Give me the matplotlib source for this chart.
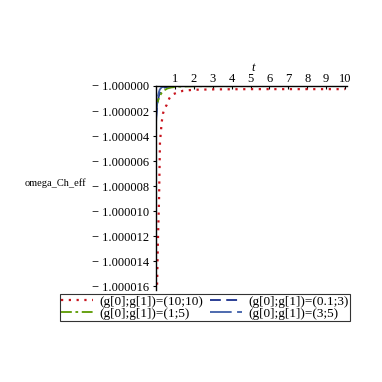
import matplotlib
matplotlib.use('Agg')
import matplotlib.pyplot as plt
from matplotlib.ticker import FuncFormatter
import numpy as np

plt.rcParams['font.family'] = ['Liberation Serif', 'DejaVu Serif']

# curves: t and offset below -1 (in units of 1e-6)
t_red = [0.05, 0.1, 0.16, 0.21, 0.25, 0.30, 0.37, 0.45, 0.57, 0.7, 0.83, 1.1, 1.43, 2.0, 3.0, 5.0, 7.0, 10.0]
d_red = [16.5, 12.5, 9.1, 4.5, 3.8, 2.9, 2.2, 1.8, 1.5, 1.0, 0.7, 0.54, 0.38, 0.3, 0.27, 0.25, 0.25, 0.25]

t_b1 = [0.0, 0.05, 0.1, 0.15, 0.2, 0.3, 0.45, 0.7, 1.0, 2.0, 10.0]
d_b1 = [2.6, 1.8, 1.2, 0.8, 0.55, 0.28, 0.12, 0.05, 0.02, 0.0, 0.0]

t_g = [0.0, 0.05, 0.1, 0.2, 0.3, 0.4, 0.6, 0.8, 1.2, 2.0, 10.0]
d_g = [1.8, 1.5, 1.2, 0.8, 0.55, 0.38, 0.2, 0.12, 0.05, 0.02, 0.0]

t_b2 = [0.0, 0.03, 0.06, 0.1, 0.15, 0.2, 0.3, 0.5, 1.0, 10.0]
d_b2 = [3.0, 2.1, 1.4, 0.85, 0.5, 0.28, 0.1, 0.03, 0.0, 0.0]

labels = ['(g[0];g[1])=(10;10)', '(g[0];g[1])=(0.1;3)',
          '(g[0];g[1])=(1;5)', '(g[0];g[1])=(3;5)']


def omega(d):
    return -1.0 - np.array(d) * 1e-6


fig = plt.figure(figsize=(3.82, 3.82), dpi=100)
ax = fig.add_axes([156 / 382, 1 - 290 / 382, 191 / 382, 204 / 382])

l1, = ax.plot(t_red, omega(d_red), color='#c8141e', ls=(0, (1, 2.5)), lw=1.6)
l2, = ax.plot(t_b1, omega(d_b1), color='#1a2f8c', ls=(0, (6, 3)), lw=1.3)
l3, = ax.plot(t_g, omega(d_g), color='#5a9a00', ls=(0, (6, 2, 1.5, 2)), lw=1.3)
l4, = ax.plot(t_b2, omega(d_b2), color='#3f5fa8', ls=(0, (12, 3)), lw=1.3)

ax.set_xlim(0, 10.1)
ax.set_ylim(-1.0000163, -1.0)

ax.spines['right'].set_visible(False)
ax.spines['bottom'].set_visible(False)
ax.spines['left'].set_linewidth(1.0)
ax.spines['top'].set_linewidth(1.0)

ax.xaxis.tick_top()
ax.set_xticks(range(1, 11))
ax.tick_params(axis='x', direction='in', length=2, pad=1, labelsize=9)
yt = [-1.0 - k * 2e-6 for k in range(9)]
ax.set_yticks(yt)
ax.yaxis.set_major_formatter(FuncFormatter(lambda v, p: '\u2212 %.6f' % abs(v)))
ax.tick_params(axis='y', direction='out', length=2, pad=3, labelsize=9)

fig.text(253 / 382, 1 - 68 / 382, 't', style='italic', fontsize=9, ha='center', va='center')
fig.text(55 / 382, 1 - 183 / 382, 'omega_Ch_eff', fontsize=7.5, ha='center', va='center')

# row-major order like the reference legend
leg = fig.legend([l1, l3, l2, l4], [labels[0], labels[2], labels[1], labels[3]],
                 ncol=2, loc='upper center',
                 bbox_to_anchor=(205 / 382, 1 - 294 / 382), fontsize=9.5,
                 frameon=True, fancybox=False, edgecolor='black',
                 handlelength=2.4, handletextpad=0.5, columnspacing=0.5,
                 borderpad=0.1, labelspacing=0.0, borderaxespad=0)
leg.get_frame().set_linewidth(0.8)

fig.savefig('out.png', dpi=100)
